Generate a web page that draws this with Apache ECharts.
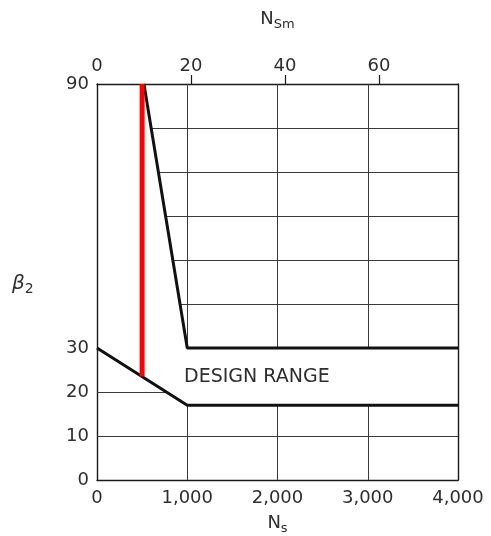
<!DOCTYPE html>
<html>
<head>
<meta charset="utf-8">
<script src="https://cdn.jsdelivr.net/npm/echarts@6/dist/echarts.min.js"></script>
<style>
  html, body { margin: 0; padding: 0; background: #ffffff; }
  #chart { width: 491px; height: 536px; }
</style>
</head>
<body>
<div id="chart"></div>
<script>
// Specific speed N_s (US units) on the bottom, metric N_Sm on top, blade angle beta_2 on the left.
const nsRange = [0, 4000];
const nsTicks = [0, 1000, 2000, 3000, 4000];
const nsmMax = 76.8;                   // metric specific speed at N_s = 4000
const nsmLabels = [0, 20, 40, 60];
const nsmTicks = [20, 40, 60];
const betaRange = [0, 90];
const betaLabels = [0, 10, 20, 30, 90];

// Boundaries of the design range
const upperBoundary = [[520, 90], [1000, 30], [4000, 30]];
const lowerBoundary = [[0, 30], [1000, 17], [4000, 17]];
// Selected specific speed
const selectedLine = [[500, 23.5], [500, 90]];

// Chart grid segments (kept out of the design range band)
const gridSegments = [
  [[0, 10], [4000, 10]],
  [[0, 20], [760, 20]],
  [[930, 40], [4000, 40]],
  [[850, 50], [4000, 50]],
  [[770, 60], [4000, 60]],
  [[690, 70], [4000, 70]],
  [[600, 80], [4000, 80]],
  [[1000, 0], [1000, 17]], [[1000, 30], [1000, 90]],
  [[2000, 0], [2000, 17]], [[2000, 30], [2000, 90]],
  [[3000, 0], [3000, 17]], [[3000, 30], [3000, 90]]
];

const FONT = 'DejaVu Sans';
const TXT = '#2e2e2e';
const FRAME = { show: true, onZero: false, lineStyle: { color: '#1a1a1a', width: 1.4 } };

const subTitle = {
  n: { fontFamily: FONT, fontSize: 18, color: TXT, lineHeight: 24, verticalAlign: 'middle' },
  s: { fontFamily: FONT, fontSize: 13, color: TXT, lineHeight: 13, verticalAlign: 'bottom' }
};

const chart = echarts.init(document.getElementById('chart'), null, { renderer: 'canvas' });

chart.setOption({
  backgroundColor: '#ffffff',
  animation: false,
  grid: { left: 97, right: 33, top: 84, bottom: 56, outerBoundsMode: 'none' },
  xAxis: [
    {
      type: 'value', position: 'bottom',
      min: nsRange[0], max: nsRange[1], interval: 1000,
      axisLine: FRAME, axisTick: { show: false }, splitLine: { show: false },
      axisLabel: {
        margin: 9, color: TXT, fontFamily: FONT, fontSize: 18,
        customValues: nsTicks,
        formatter: v => v === 0 ? '0' : v.toLocaleString('en-US')
      },
      name: '{n|N}{s|s}', nameLocation: 'middle', nameGap: 31,
      nameTextStyle: { rich: subTitle }
    },
    {
      type: 'value', position: 'top',
      min: 0, max: nsmMax, interval: 20,
      axisLine: FRAME,
      axisTick: { show: true, length: 9, customValues: nsmTicks, lineStyle: { color: '#1a1a1a', width: 1.2 } },
      splitLine: { show: false },
      axisLabel: { margin: 9, color: TXT, fontFamily: FONT, fontSize: 18, customValues: nsmLabels },
      name: '{n|N}{s|Sm}', nameLocation: 'middle', nameGap: 53,
      nameTextStyle: { rich: subTitle }
    }
  ],
  yAxis: [
    {
      type: 'value', position: 'left',
      min: betaRange[0], max: betaRange[1], interval: 10,
      axisLine: FRAME, axisTick: { show: false }, splitLine: { show: false },
      axisLabel: { margin: 8, color: TXT, fontFamily: FONT, fontSize: 18, customValues: betaLabels }
    },
    {
      type: 'value', position: 'right',
      min: betaRange[0], max: betaRange[1], interval: 10,
      axisLine: FRAME, axisTick: { show: false }, splitLine: { show: false },
      axisLabel: { show: false }
    }
  ],
  graphic: [
    {
      type: 'text', left: 12, top: 274,
      style: {
        text: '{b|β}{s|2}',
        rich: {
          b: { fontFamily: FONT, fontStyle: 'italic', fontSize: 20, fill: TXT, lineHeight: 24, verticalAlign: 'middle' },
          s: { fontFamily: FONT, fontSize: 14, fill: TXT, lineHeight: 14, verticalAlign: 'bottom' }
        }
      }
    },
    {
      type: 'text', left: 184, top: 368,
      style: { text: 'DESIGN RANGE', fontFamily: FONT, fontSize: 19, fill: TXT }
    }
  ],
  series: [
    {
      name: 'grid', type: 'lines', coordinateSystem: 'cartesian2d',
      xAxisIndex: 0, yAxisIndex: 0, silent: true,
      lineStyle: { color: '#3a3a3a', width: 1, opacity: 1 },
      data: gridSegments.map(seg => ({ coords: seg }))
    },
    {
      name: 'upper', type: 'line', xAxisIndex: 0, yAxisIndex: 0,
      data: upperBoundary, showSymbol: false, silent: true,
      lineStyle: { color: '#111111', width: 3 }
    },
    {
      name: 'lower', type: 'line', xAxisIndex: 0, yAxisIndex: 0,
      data: lowerBoundary, showSymbol: false, silent: true,
      lineStyle: { color: '#111111', width: 3 }
    },
    {
      name: 'selected', type: 'line', xAxisIndex: 0, yAxisIndex: 0,
      data: selectedLine, showSymbol: false, silent: true,
      lineStyle: { color: '#ff0000', width: 5 }
    }
  ]
});
</script>
</body>
</html>
